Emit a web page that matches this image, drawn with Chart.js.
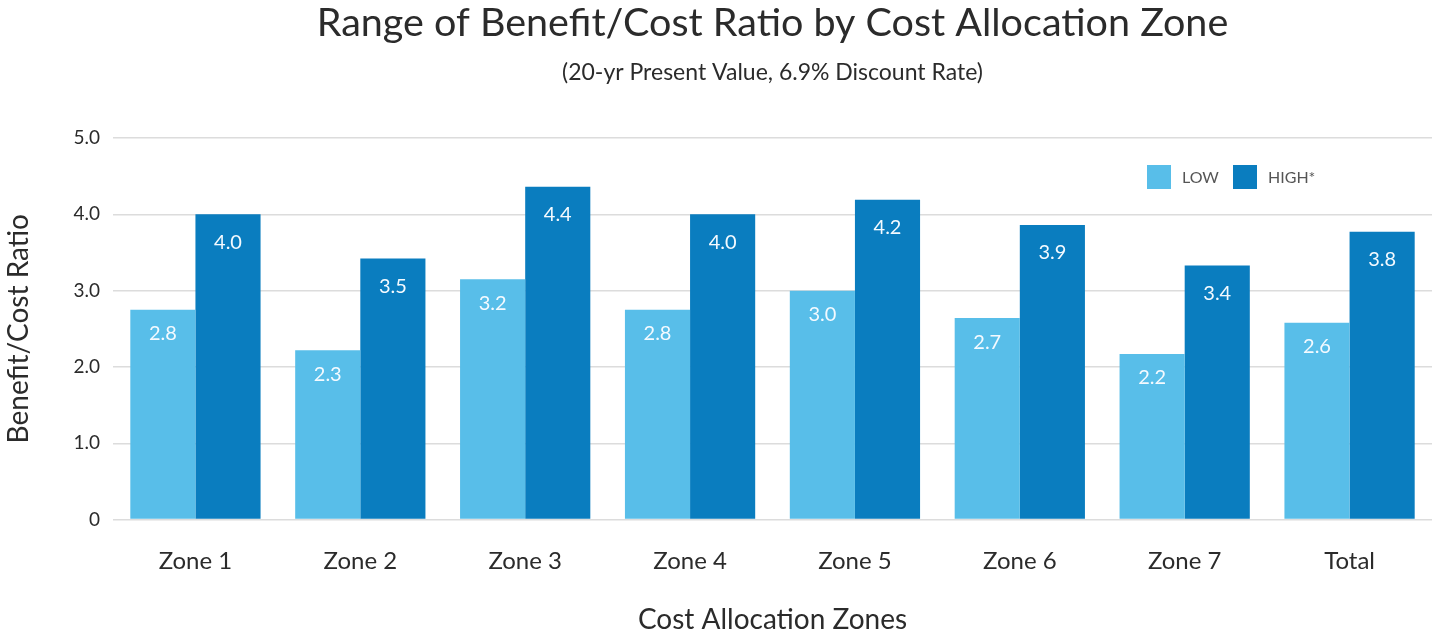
<!DOCTYPE html>
<html>
<head>
<meta charset="utf-8">
<script src="https://cdn.jsdelivr.net/npm/chart.js@4/dist/chart.umd.min.js"></script>
<style>
  html, body { margin: 0; padding: 0; background: #ffffff; }
  #wrap { width: 1448px; height: 638px; position: relative; }
</style>
</head>
<body>
<div id="wrap"><canvas id="c" width="1448" height="638"></canvas></div>
<script>
const categories = ["Zone 1", "Zone 2", "Zone 3", "Zone 4", "Zone 5", "Zone 6", "Zone 7", "Total"];
const lowValues  = [2.75, 2.22, 3.15, 2.75, 3.0, 2.64, 2.17, 2.58];
const highValues = [4.0, 3.42, 4.36, 4.0, 4.19, 3.86, 3.33, 3.77];
const lowLabels  = ["2.8", "2.3", "3.2", "2.8", "3.0", "2.7", "2.2", "2.6"];
const highLabels = ["4.0", "3.5", "4.4", "4.0", "4.2", "3.9", "3.4", "3.8"];
const yTickLabels = { 0: "0", 1: "1.0", 2: "2.0", 3: "3.0", 4: "4.0", 5: "5.0" };
const seriesNames = ["LOW", "HIGH*"];

const LIGHT = "#58bee9";
const DARK = "#0a7dbf";
const FONT = "Lato, 'Open Sans', sans-serif";

const valueLabelPlugin = {
  id: "valueLabels",
  afterDatasetsDraw(chart) {
    const ctx = chart.ctx;
    const labelSets = [lowLabels, highLabels];
    ctx.save();
    ctx.fillStyle = "#f4faff";
    ctx.font = "20px " + FONT;
    ctx.textAlign = "center";
    ctx.textBaseline = "middle";
    chart.data.datasets.forEach((ds, di) => {
      const meta = chart.getDatasetMeta(di);
      meta.data.forEach((bar, i) => {
        ctx.fillText(labelSets[di][i], bar.x, bar.y + (di === 0 ? 24 : 28));
      });
    });
    ctx.restore();
  }
};

const legendPlugin = {
  id: "customLegend",
  afterDraw(chart) {
    const ctx = chart.ctx;
    ctx.save();
    ctx.font = "16px " + FONT;
    ctx.textBaseline = "middle";
    ctx.textAlign = "left";
    const y = 177;
    let x = 1147;
    chart.data.datasets.forEach((ds, di) => {
      ctx.fillStyle = ds.backgroundColor;
      ctx.fillRect(x, y - 12, 24, 24);
      ctx.fillStyle = "#555555";
      ctx.fillText(ds.label, x + 35, y + 1);
      x += 86;
    });
    ctx.restore();
  }
};

new Chart(document.getElementById("c"), {
  type: "bar",
  data: {
    labels: categories,
    datasets: [
      { label: seriesNames[0], data: lowValues, backgroundColor: LIGHT, barPercentage: 1.0, categoryPercentage: 0.79 },
      { label: seriesNames[1], data: highValues, backgroundColor: DARK, barPercentage: 1.0, categoryPercentage: 0.79 }
    ]
  },
  options: {
    responsive: false,
    animation: false,
    devicePixelRatio: 1,
    layout: { padding: { left: 0, right: 16, top: 0, bottom: 0 } },
    plugins: {
      legend: { display: false },
      tooltip: { enabled: false },
      title: {
        display: true,
        fullSize: false,
        text: "Range of Benefit/Cost Ratio by Cost Allocation Zone",
        color: "#2b2b2b",
        font: { family: FONT, size: 39.5, weight: "normal", lineHeight: 1.2 },
        padding: { top: 0, bottom: 5 }
      },
      subtitle: {
        display: true,
        fullSize: false,
        text: "(20-yr Present Value, 6.9% Discount Rate)",
        color: "#2b2b2b",
        font: { family: FONT, size: 23, weight: "normal", lineHeight: 1.2 },
        padding: { top: 6, bottom: 52 }
      }
    },
    scales: {
      x: {
        grid: { display: false, drawTicks: false },
        border: { display: false },
        ticks: { color: "#2b2b2b", font: { family: FONT, size: 24, lineHeight: 1.2 }, padding: 27 },
        title: {
          display: true,
          text: "Cost Allocation Zones",
          color: "#2b2b2b",
          font: { family: FONT, size: 28, lineHeight: 1.2 },
          padding: { top: 1, bottom: 1 }
        }
      },
      y: {
        min: 0,
        max: 5,
        afterFit(scale) { scale.width = 113; },
        grid: { color: "#dcdcdc", lineWidth: 1.5, drawTicks: false },
        border: { display: false },
        ticks: {
          stepSize: 1,
          color: "#2b2b2b",
          font: { family: FONT, size: 19 },
          padding: 13,
          callback: (v) => yTickLabels[v]
        },
        title: {
          display: true,
          text: "Benefit/Cost Ratio",
          color: "#2b2b2b",
          font: { family: FONT, size: 28, lineHeight: 1.2 },
          padding: { top: 2, bottom: 6 }
        }
      }
    }
  },
  plugins: [valueLabelPlugin, legendPlugin]
});
</script>
</body>
</html>
